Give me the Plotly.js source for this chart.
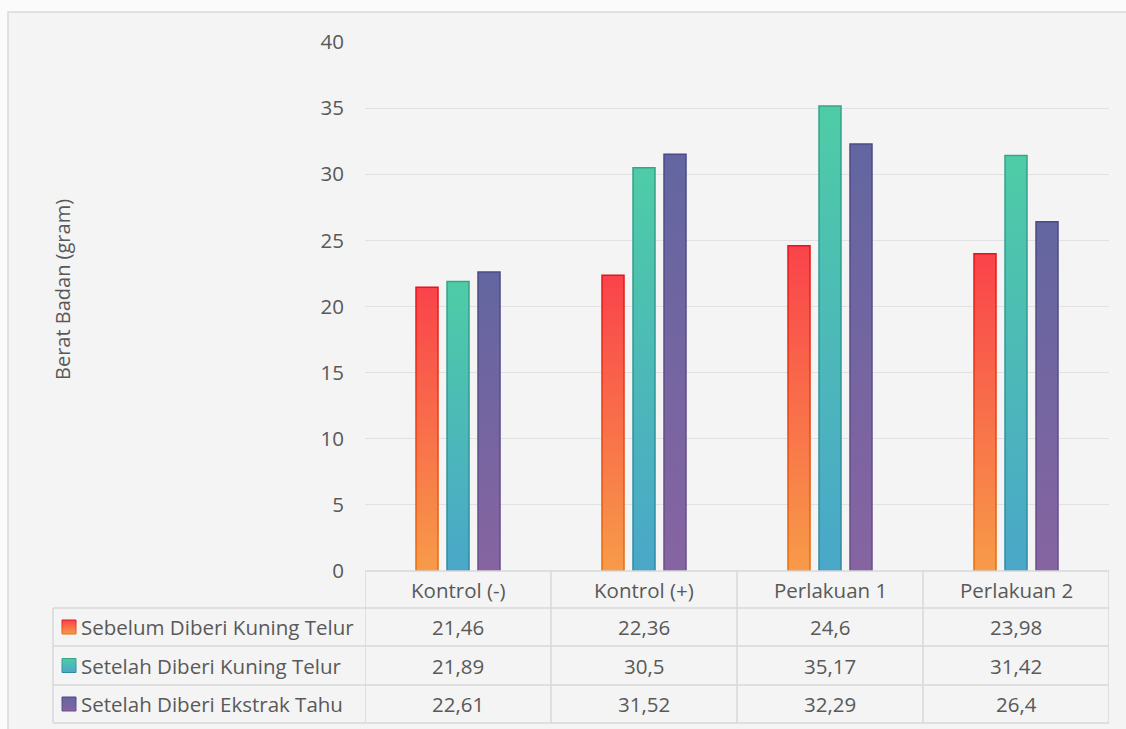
<!DOCTYPE html>
<html>
<head>
<meta charset="utf-8">
<script src="https://cdn.plot.ly/plotly-3.0.1.min.js"></script>
<style>html,body{margin:0;padding:0;background:#fbfbfb;}#chart{width:1126px;height:729px;}</style>
</head>
<body>
<div id="chart"></div>
<script>
const categories = ["Kontrol (-)", "Kontrol (+)", "Perlakuan 1", "Perlakuan 2"];
const seriesNames = ["Sebelum Diberi Kuning Telur", "Setelah Diberi Kuning Telur", "Setelah Diberi Ekstrak Tahu"];
const sebelumKuningTelur = [21.46, 22.36, 24.6, 23.98];
const setelahKuningTelur = [21.89, 30.5, 35.17, 31.42];
const setelahEkstrakTahu = [22.61, 31.52, 32.29, 26.4];
const yTicks = [0, 5, 10, 15, 20, 25, 30, 35, 40];
const yTitle = "Berat Badan (gram)";

const seriesValues = [sebelumKuningTelur, setelahKuningTelur, setelahEkstrakTahu];
// base colours (used as unique keys, replaced by gradients after rendering)
const baseFill = ["rgb(249, 101, 72)", "rgb(76, 186, 183)", "rgb(114, 102, 160)"];
const baseLine = ["rgb(230, 60, 30)", "rgb(50, 150, 150)", "rgb(85, 80, 135)"];
const gradFill = [["#fa434b", "#f79b48"], ["#4ecca6", "#4aa7c9"], ["#6266a0", "#8664a1"]];
const gradLine = [["#e5141a", "#e8700f"], ["#35a487", "#2f8aa6"], ["#4a4b86", "#6a4f8c"]];

const W = 1126, H = 729;
const L = 365, R = 1109, T = 42, B = 571;
const px = x => (x - L) / (R - L);
const py = y => (B - y) / (B - T);

const textColor = "#595959";
const font = {family: "Open Sans, sans-serif", size: 20.5, color: textColor};
const titleFont = {family: "Open Sans, sans-serif", size: 20, color: textColor};

const traces = seriesValues.map((vals, i) => ({
  type: "bar",
  x: categories,
  y: vals,
  name: seriesNames[i],
  marker: {color: baseFill[i], line: {color: baseLine[i], width: 1.5}},
  hoverinfo: "x+y+name"
}));

const rowTops = [571, 608, 646, 685, 723];
const shapes = [];
const annotations = [];
// chart area background
shapes.push({type: "rect", xref: "paper", yref: "paper", layer: "below",
  x0: px(8), x1: px(1140), y0: py(12), y1: py(745),
  fillcolor: "#f4f4f4", line: {color: "#d9d9d9", width: 1.5}});
// table horizontal lines
shapes.push({type: "line", xref: "paper", yref: "paper", x0: px(365), x1: px(1109), y0: py(571), y1: py(571), line: {color: "#d9d9d9", width: 1.5}});
for (let r = 1; r < rowTops.length; r++) {
  shapes.push({type: "line", xref: "paper", yref: "paper", x0: px(53), x1: px(1109), y0: py(rowTops[r]), y1: py(rowTops[r]), line: {color: "#d9d9d9", width: 1.5}});
}
// vertical lines
shapes.push({type: "line", xref: "paper", yref: "paper", x0: px(53), x1: px(53), y0: py(608), y1: py(723), line: {color: "#d9d9d9", width: 1.5}});
for (let c = 0; c <= categories.length; c++) {
  shapes.push({type: "line", xref: "x", yref: "paper", x0: c - 0.5, x1: c - 0.5, y0: py(571), y1: py(723), line: {color: "#d9d9d9", width: 1.5}});
}
// header labels
categories.forEach((cat, c) => {
  annotations.push({xref: "x", yref: "paper", x: c, y: py(589.5), text: cat, showarrow: false, font: font, xanchor: "center", yanchor: "middle"});
});
// rows
seriesNames.forEach((name, i) => {
  const yc = (rowTops[i + 1] + rowTops[i + 2]) / 2;
  shapes.push({type: "rect", xref: "paper", yref: "paper", x0: px(62), x1: px(76), y0: py(yc - 7), y1: py(yc + 7),
    fillcolor: baseFill[i], line: {color: baseLine[i], width: 1}});
  annotations.push({xref: "paper", yref: "paper", x: px(79), y: py(yc), text: name, showarrow: false, font: font, xanchor: "left", yanchor: "middle"});
  seriesValues[i].forEach((v, c) => {
    annotations.push({xref: "x", yref: "paper", x: c, y: py(yc), text: String(v).replace(".", ","), showarrow: false, font: font, xanchor: "center", yanchor: "middle"});
  });
});
// y title
annotations.push({xref: "paper", yref: "paper", x: px(62), y: py(290), text: yTitle, textangle: -90, showarrow: false, font: titleFont, xanchor: "center", yanchor: "middle"});

const layout = {
  width: W, height: H,
  margin: {l: L, r: W - R, t: T, b: H - B, pad: 0},
  paper_bgcolor: "#fbfbfb",
  plot_bgcolor: "rgba(0,0,0,0)",
  showlegend: false,
  barmode: "group",
  bargap: 0.5,
  bargroupgap: 0.29,
  font: font,
  xaxis: {type: "category", range: [-0.5, categories.length - 0.5], showticklabels: false, showgrid: false, zeroline: false, showline: false, ticks: ""},
  yaxis: {range: [0, 40], tickvals: yTicks, ticktext: yTicks.map(String), showgrid: true, gridcolor: "#e1e1e1", gridwidth: 1.3,
    zeroline: false, showline: false, ticks: "", ticklabelstandoff: 20, tickfont: font},
  shapes: shapes,
  annotations: annotations
};

Plotly.newPlot("chart", traces, layout, {displayModeBar: false, responsive: false}).then(gd => {
  const svg = gd.querySelector("svg.main-svg");
  const NS = "http://www.w3.org/2000/svg";
  let defs = svg.querySelector("defs");
  if (!defs) { defs = document.createElementNS(NS, "defs"); svg.insertBefore(defs, svg.firstChild); }
  function addGrad(id, c0, c1) {
    const g = document.createElementNS(NS, "linearGradient");
    g.setAttribute("id", id);
    g.setAttribute("x1", "0"); g.setAttribute("y1", "0"); g.setAttribute("x2", "0"); g.setAttribute("y2", "1");
    [[0, c0], [1, c1]].forEach(([o, c]) => {
      const s = document.createElementNS(NS, "stop");
      s.setAttribute("offset", o); s.setAttribute("stop-color", c);
      g.appendChild(s);
    });
    defs.appendChild(g);
  }
  const norm = s => (s || "").replace(/\s+/g, "");
  seriesNames.forEach((n, i) => {
    addGrad("gf" + i, gradFill[i][0], gradFill[i][1]);
    addGrad("gl" + i, gradLine[i][0], gradLine[i][1]);
  });
  gd.querySelectorAll("path").forEach(p => {
    const f = norm(p.style.fill), s = norm(p.style.stroke);
    for (let i = 0; i < baseFill.length; i++) {
      if (f === norm(baseFill[i])) p.style.fill = "url(#gf" + i + ")";
      if (s === norm(baseLine[i])) p.style.stroke = "url(#gl" + i + ")";
    }
  });
});
</script>
</body>
</html>
